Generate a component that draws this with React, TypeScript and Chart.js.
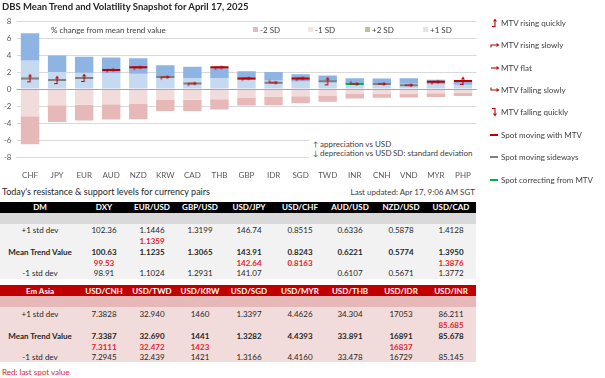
import React, { useEffect, useRef } from 'react';
import { Chart, registerables } from 'chart.js';
Chart.register(...registerables);

const categories = ['CHF', 'JPY', 'EUR', 'AUD', 'NZD', 'KRW', 'CAD', 'THB', 'GBP', 'IDR', 'SGD', 'TWD', 'INR', 'CNH', 'VND', 'MYR', 'PHP'];
const plus1 = [3.35, 2.0, 1.9, 1.85, 1.8, 1.35, 1.3, 1.3, 1.05, 1.0, 0.87, 0.8, 0.63, 0.62, 0.63, 0.55, 0.5];
const plus2 = [6.55, 3.95, 3.8, 3.72, 3.62, 2.78, 2.62, 2.58, 2.1, 2.0, 1.73, 1.6, 1.26, 1.24, 1.26, 1.1, 1.0];
const minus1 = [-3.2, -1.9, -1.85, -1.8, -1.75, -1.3, -1.25, -1.2, -1.0, -0.95, -0.85, -0.75, -0.6, -0.55, -0.55, -0.5, -0.45];
const minus2 = [-6.5, -3.88, -3.7, -3.58, -3.55, -2.6, -2.6, -2.42, -1.95, -1.9, -1.68, -1.5, -1.13, -1.02, -1.0, -0.94, -0.82];
const spot = [1.25, 1.05, 1.3, 2.25, 2.55, 1.4, 0.65, 2.55, 1.25, 0.75, 1.25, 0.9, 0.6, 0.6, 0.45, 0.85, 0.95];
const spotState = ['side', 'side', 'side', 'with', 'with', 'side', 'side', 'with', 'with', 'side', 'with', 'side', 'correct', 'side', 'side', 'with', 'with'];
const mtvState = ['rq', 'rq', 'rq', 'rs', 'rs', 'rs', 'rs', 'rs', 'rs', 'fs', 'rs', 'rq', 'fs', 'flat', 'flat', 'rs', 'rq'];
const yMin = -8;
const yMax = 8;
const yStep = 2;

const bandLegend = ['-2 SD', '-1 SD', '+2 SD', '+1 SD'];
const mtvLegend = [
  ['rq', 'MTV rising quickly'],
  ['rs', 'MTV rising slowly'],
  ['flat', 'MTV flat'],
  ['fs', 'MTV falling slowly'],
  ['fq', 'MTV falling quickly'],
];
const spotLegend = [
  ['with', 'Spot moving with MTV'],
  ['side', 'Spot moving sideways'],
  ['correct', 'Spot correcting from MTV'],
];

const dmHeader = ['DM', 'DXY', 'EUR/USD', 'GBP/USD', 'USD/JPY', 'USD/CHF', 'AUD/USD', 'NZD/USD', 'USD/CAD'];
const dmPlus1 = ['102.36', '1.1446', '1.3199', '146.74', '0.8515', '0.6336', '0.5878', '1.4128'];
const dmSpotUp = ['', '1.1359', '', '', '', '', '', ''];
const dmMean = ['100.63', '1.1235', '1.3065', '143.91', '0.8243', '0.6221', '0.5774', '1.3950'];
const dmSpotDown = ['99.53', '', '', '142.64', '0.8163', '', '', '1.3876'];
const dmMinus1 = ['98.91', '1.1024', '1.2931', '141.07', '', '0.6107', '0.5671', '1.3772'];

const emHeader = ['Em Asia', 'USD/CNH', 'USD/TWD', 'USD/KRW', 'USD/SGD', 'USD/MYR', 'USD/THB', 'USD/IDR', 'USD/INR'];
const emPlus1 = ['7.3828', '32.940', '1460', '1.3397', '4.4626', '34.304', '17053', '86.211'];
const emSpotUp = ['', '', '', '', '', '', '', '85.685'];
const emMean = ['7.3387', '32.690', '1441', '1.3282', '4.4393', '33.891', '16891', '85.678'];
const emSpotDown = ['7.3111', '32.472', '1423', '', '', '', '16837', ''];
const emMinus1 = ['7.2945', '32.439', '1421', '1.3166', '4.4160', '33.478', '16729', '85.145'];

const FONT = 'Lato, "Open Sans", sans-serif';
const C_BLUE2 = '#8DB4E2';
const C_BLUE1 = '#C5D9F1';
const C_PINK1 = '#F2DCDB';
const C_PINK2 = '#E6B8B7';
const C_RED = '#C00000';
const spotColor: Record<string, string> = { with: '#C00000', side: '#808080', correct: '#00B050' };
const swatchColor: Record<string, string> = { '-2 SD': '#E6B8B7', '-1 SD': '#F6E4E3', '+2 SD': '#C4BD97', '+1 SD': '#E4E4E4' };

type Geo = { line: number[][]; tri: number[][] };
const iconGeo: Record<string, Geo> = {
  rq: { line: [[-3, 3.5], [0, 3.5], [0, -1.5]], tri: [[-2, -1.5], [2, -1.5], [0, -4.5]] },
  rs: { line: [[-4, 2.5], [-4, 0], [1.5, 0]], tri: [[1.5, -2], [1.5, 2], [4.5, 0]] },
  flat: { line: [[-4, 0], [1.5, 0]], tri: [[1.5, -2], [1.5, 2], [4.5, 0]] },
  fs: { line: [[-4, -2.5], [-4, 0], [1.5, 0]], tri: [[1.5, -2], [1.5, 2], [4.5, 0]] },
  fq: { line: [[-3, -3.5], [0, -3.5], [0, 1.5]], tri: [[-2, 1.5], [2, 1.5], [0, 4.5]] },
};

function makeIconCanvas(kind: string): HTMLCanvasElement {
  const c = document.createElement('canvas');
  c.width = 12;
  c.height = 12;
  const ctx = c.getContext('2d')!;
  const g = iconGeo[kind];
  ctx.strokeStyle = C_RED;
  ctx.fillStyle = C_RED;
  ctx.lineWidth = 1.1;
  ctx.beginPath();
  g.line.forEach((p, i) => (i ? ctx.lineTo(6 + p[0], 6 + p[1]) : ctx.moveTo(6 + p[0], 6 + p[1])));
  ctx.stroke();
  ctx.beginPath();
  g.tri.forEach((p, i) => (i ? ctx.lineTo(6 + p[0], 6 + p[1]) : ctx.moveTo(6 + p[0], 6 + p[1])));
  ctx.closePath();
  ctx.fill();
  return c;
}

function IconSvg({ kind }: { kind: string }) {
  const g = iconGeo[kind];
  return (
    <svg width={12} height={12} viewBox="0 0 12 12" style={{ display: 'block' }}>
      <polyline points={g.line.map((p) => `${6 + p[0]},${6 + p[1]}`).join(' ')} fill="none" stroke={C_RED} strokeWidth={1.1} />
      <polygon points={g.tri.map((p) => `${6 + p[0]},${6 + p[1]}`).join(' ')} fill={C_RED} />
    </svg>
  );
}

const zeroLinePlugin = {
  id: 'zeroLine',
  afterDatasetsDraw(chart: any) {
    const y = chart.scales.y.getPixelForValue(0);
    const { left, right } = chart.chartArea;
    const ctx = chart.ctx;
    ctx.save();
    ctx.strokeStyle = '#A6A6A6';
    ctx.lineWidth = 1;
    ctx.beginPath();
    ctx.moveTo(left, Math.round(y) + 0.5);
    ctx.lineTo(right, Math.round(y) + 0.5);
    ctx.stroke();
    ctx.restore();
  },
};

function T({ x, y, children, align = 'left', style = {} }: any) {
  const tx = align === 'center' ? 'translateX(-50%)' : align === 'right' ? 'translateX(-100%)' : 'none';
  return (
    <div
      style={{
        position: 'absolute',
        left: x,
        top: y - 6,
        lineHeight: '12px',
        height: 12,
        whiteSpace: 'nowrap',
        transform: tx,
        fontFamily: FONT,
        fontSize: 8,
        color: '#404040',
        ...style,
      }}
    >
      {children}
    </div>
  );
}

const colCenters = [40, 104, 152, 200, 249, 300, 350, 401, 451];

function Table({ top, header, headerBg, subBg, bodyBg, rows }: any) {
  const rowY = [top + 28.5, top + 39.5, top + 50.5, top + 61.5, top + 71.5];
  const labels = ['+1 std dev', '', 'Mean Trend Value', '', '-1 std dev'];
  const kinds = ['n', 'r', 'b', 'r', 'n'];
  return (
    <>
      <div style={{ position: 'absolute', left: 0, top, width: 476, height: 11, background: headerBg }} />
      <div style={{ position: 'absolute', left: 0, top: top + 11, width: 476, height: 11, background: subBg }} />
      <div style={{ position: 'absolute', left: 0, top: top + 22, width: 476, height: 55, background: bodyBg }} />
      {header.map((h: string, i: number) => (
        <T key={'h' + i} x={colCenters[i]} y={top + 5.5} align="center" style={{ color: '#fff', fontWeight: 700 }}>
          {h}
        </T>
      ))}
      {labels.map((l, r) =>
        l ? (
          <T key={'l' + r} x={colCenters[0]} y={rowY[r]} align="center" style={{ fontWeight: kinds[r] === 'b' ? 700 : 400, color: '#262626' }}>
            {l}
          </T>
        ) : null
      )}
      {rows.map((row: string[], r: number) =>
        row.map((v, i) =>
          v ? (
            <T
              key={r + '-' + i}
              x={colCenters[i + 1]}
              y={rowY[r]}
              align="center"
              style={{
                fontWeight: kinds[r] === 'n' ? 400 : 700,
                color: kinds[r] === 'r' ? '#E3242B' : '#262626',
              }}
            >
              {v}
            </T>
          ) : null
        )
      )}
    </>
  );
}

export default function App() {
  const ref = useRef<HTMLCanvasElement>(null);
  useEffect(() => {
    const icons = mtvState.map((k) => makeIconCanvas(k));
    const chart = new Chart(ref.current!, {
      type: 'bar',
      data: {
        labels: categories,
        datasets: [
          { label: '+2 SD', data: categories.map((_, i) => [plus1[i], plus2[i]]) as any, backgroundColor: C_BLUE2, order: 2 },
          { label: '+1 SD', data: categories.map((_, i) => [0, plus1[i]]) as any, backgroundColor: C_BLUE1, order: 2 },
          { label: '-1 SD', data: categories.map((_, i) => [0, minus1[i]]) as any, backgroundColor: C_PINK1, order: 2 },
          { label: '-2 SD', data: categories.map((_, i) => [minus1[i], minus2[i]]) as any, backgroundColor: C_PINK2, order: 2 },
          {
            type: 'line',
            label: 'spot',
            data: spot,
            showLine: false,
            pointStyle: 'line',
            pointRadius: 9,
            pointHoverRadius: 9,
            pointBorderWidth: 2,
            pointBorderColor: spotState.map((s) => spotColor[s]),
            pointBackgroundColor: spotState.map((s) => spotColor[s]),
            order: 1,
          } as any,
          {
            type: 'line',
            label: 'mtv',
            data: spot,
            showLine: false,
            pointStyle: icons,
            pointRadius: 6,
            order: 0,
          } as any,
        ],
      },
      options: {
        responsive: false,
        animation: false,
        events: [],
        layout: { padding: { left: 0, right: 128.5, top: 21, bottom: 0 } },
        plugins: { legend: { display: false }, tooltip: { enabled: false }, title: { display: false } },
        datasets: { bar: { barPercentage: 0.68, categoryPercentage: 1 } },
        scales: {
          x: {
            stacked: true,
            grid: { display: false },
            border: { display: false },
            ticks: { color: '#595959', font: { family: FONT, size: 8 }, padding: 6, maxRotation: 0, autoSkip: false },
            afterFit: (s: any) => {
              s.height = 23;
            },
          },
          y: {
            min: yMin,
            max: yMax,
            grid: { color: '#D9D9D9', lineWidth: 1, drawTicks: false },
            border: { display: false },
            ticks: { stepSize: yStep, color: '#595959', font: { family: FONT, size: 8 }, padding: 5 },
            afterFit: (s: any) => {
              s.width = 16.5;
            },
          },
        },
      },
      plugins: [zeroLinePlugin],
    });
    return () => chart.destroy();
  }, []);

  const bandX = [253, 308, 365, 423];
  const legY = [23, 45, 68, 90, 112, 135, 157, 180];

  return (
    <div style={{ position: 'absolute', left: 0, top: 0, width: 605, height: 378, background: '#fff', overflow: 'hidden', fontFamily: FONT }}>
      <canvas ref={ref} width={605} height={180} style={{ position: 'absolute', left: 0, top: 0, width: 605, height: 180 }} />
      <T x={2} y={7} style={{ fontSize: 9.5, fontWeight: 700, color: '#262626' }}>
        DBS Mean Trend and Volatility Snapshot for April 17, 2025
      </T>
      <T x={51} y={30} style={{ color: '#404040' }}>% change from mean trend value</T>
      {bandLegend.map((b, i) => (
        <React.Fragment key={b}>
          <div style={{ position: 'absolute', left: bandX[i], top: 27, width: 5, height: 5, background: swatchColor[b] }} />
          <T x={bandX[i] + 7} y={29.5}>{b}</T>
        </React.Fragment>
      ))}
      <div style={{ position: 'absolute', left: 309, top: 136, width: 168, height: 24, background: '#fff' }} />
      <T x={313} y={144} style={{ fontSize: 7 }}>↑</T>
      <T x={320} y={144}>appreciation vs USD</T>
      <T x={313} y={153} style={{ fontSize: 7 }}>↓</T>
      <T x={320} y={153}>depreciation vs USD</T>
      <T x={393} y={153}>SD: standard deviation</T>
      {mtvLegend.map(([k, label], i) => (
        <React.Fragment key={k}>
          <div style={{ position: 'absolute', left: 489, top: legY[i] - 6 }}>
            <IconSvg kind={k} />
          </div>
          <T x={501} y={legY[i]}>{label}</T>
        </React.Fragment>
      ))}
      {spotLegend.map(([k, label], i) => (
        <React.Fragment key={k}>
          <div style={{ position: 'absolute', left: 490, top: legY[i + 5] - 1, width: 8, height: 2, background: spotColor[k] }} />
          <T x={501} y={legY[i + 5]}>{label}</T>
        </React.Fragment>
      ))}

      <T x={2} y={192} style={{ fontSize: 9, color: '#262626' }}>Today's resistance &amp; support levels for currency pairs</T>
      <T x={475} y={192} align="right" style={{ color: '#404040' }}>Last updated: Apr 17, 9:06 AM SGT</T>

      <Table top={201.5} header={dmHeader} headerBg="#000000" subBg="#D9D9D9" bodyBg="#F2F2F2" rows={[dmPlus1, dmSpotUp, dmMean, dmSpotDown, dmMinus1]} />
      <Table top={285} header={emHeader} headerBg="#C00000" subBg="#E6B8B7" bodyBg="#F2DCDB" rows={[emPlus1, emSpotUp, emMean, emSpotDown, emMinus1]} />
      <T x={2} y={372} style={{ color: '#E3242B' }}>Red: last spot value</T>
    </div>
  );
}
